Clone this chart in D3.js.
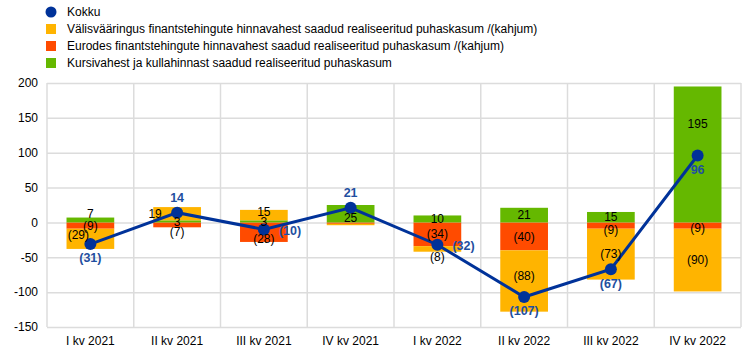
<html>
<head>
<meta charset="UTF-8" />
<script src="https://d3js.org/d3.v7.min.js"></script>
<style>
  body { margin: 0; background: #fff; }
  text { font-family: Arial, "Liberation Sans", sans-serif; }
  .gridlines line { stroke: #dcdcdc; stroke-width: 1.5; }
  .gridlines .domain { stroke: none; }
  .axis .domain, .axis line { stroke: none; }
</style>
</head>
<body>
<svg id="svg1" width="744" height="354"></svg>
<script>
// data
const quarters = ["I kv 2021", "II kv 2021", "III kv 2021", "IV kv 2021", "I kv 2022", "II kv 2022", "III kv 2022", "IV kv 2022"];
const valis = [-29, 19, 15, -2, -8, -88, -73, -90];   // Välisvääringus ...
const eurodes = [-9, -7, -28, -2, -34, -40, -9, -9];  // Eurodes ...
const kursi = [7, 3, 3, 25, 10, 21, 15, 195];         // Kursivahest ...
const kokku = [-31, 14, -10, 21, -32, -107, -67, 96];
const yTicks = [200, 150, 100, 50, 0, -50, -100, -150];

const legendNames = ["Kokku",
  "Välisvääringus finantstehingute hinnavahest saadud realiseeritud puhaskasum /(kahjum)",
  "Eurodes finantstehingute hinnavahest saadud realiseeritud puhaskasum /(kahjum)",
  "Kursivahest ja kullahinnast saadud realiseeritud puhaskasum"];

const colors = { kokku: "#003299", valis: "#FFB400", eurodes: "#FF4B00", kursi: "#65B800" };

// label placement tweaks (styling only)
const totalPos = ["below", "above", "right", "above", "right", "below", "below", "below"];
const nudge = {
  "valis-0": [-12, -4], "kursi-0": [0, -6], "valis-1": [-22, 0], "eurodes-1": [0, 7],
  "eurodes-2": [0, 7], "valis-2": [0, -3], "kursi-3": [0, 4], "valis-4": [0, 8],
  "valis-5": [0, -5], "eurodes-6": [0, 4], "kursi-7": [0, -31], "eurodes-7": [0, 2]
};

const svg = d3.select("#svg1");
const margin = { left: 47, right: 3, top: 83, bottom: 27 };
const plotW = 744 - margin.left - margin.right;
const plotBottom = 327;

const x = d3.scaleBand().domain(quarters).range([margin.left, margin.left + plotW]).paddingInner(0.45).paddingOuter(0.225);
const xGrid = d3.scaleBand().domain(quarters).range([margin.left, margin.left + plotW]);
const y = d3.scaleLinear().domain([-150, 200]).range([plotBottom, margin.top]);

// gridlines
svg.append("g").attr("class", "gridlines")
  .attr("transform", "translate(" + margin.left + ",0)")
  .call(d3.axisLeft(y).tickValues(yTicks).tickSize(-plotW).tickFormat(""));
const vg = svg.append("g").attr("class", "gridlines");
vg.selectAll("line").data(quarters.concat(["end"]))
  .join("line")
  .attr("x1", (d, i) => i < quarters.length ? xGrid(d) : margin.left + plotW)
  .attr("x2", (d, i) => i < quarters.length ? xGrid(d) : margin.left + plotW)
  .attr("y1", y(200)).attr("y2", plotBottom);

// y axis labels
svg.append("g").attr("class", "axis")
  .attr("transform", "translate(" + (margin.left - 2) + ",0)")
  .call(d3.axisLeft(y).tickValues(yTicks).tickSize(0).tickPadding(7).tickFormat(d => String(d)))
  .selectAll("text").style("font-size", "12px").attr("fill", "#000");

// x axis labels
svg.append("g").attr("class", "axis")
  .attr("transform", "translate(0," + plotBottom + ")")
  .call(d3.axisBottom(xGrid).tickSize(0).tickPadding(9))
  .selectAll("text").style("font-size", "12px").attr("fill", "#000");

// stacked bars
const rows = quarters.map((q, i) => ({ q: q, eurodes: eurodes[i], kursi: kursi[i], valis: valis[i] }));
const keys = ["eurodes", "kursi", "valis"];
const stack = d3.stack().keys(keys).offset(d3.stackOffsetDiverging)(rows);

const layers = svg.append("g").selectAll("g.layer").data(stack)
  .join("g").attr("class", "layer").attr("fill", d => colors[d.key]);

layers.selectAll("rect").data(d => d)
  .join("rect")
  .attr("x", d => x(d.data.q))
  .attr("width", x.bandwidth())
  .attr("y", d => y(Math.max(d[0], d[1])))
  .attr("height", d => Math.abs(y(d[0]) - y(d[1])));

// total line
const cx = (d, i) => x(quarters[i]) + x.bandwidth() / 2;
const line = d3.line().x(cx).y(d => y(d));
svg.append("path").attr("d", line(kokku))
  .attr("fill", "none").attr("stroke", colors.kokku).attr("stroke-width", 3);
svg.append("g").selectAll("circle").data(kokku)
  .join("circle")
  .attr("cx", cx).attr("cy", d => y(d)).attr("r", 6)
  .attr("fill", colors.kokku);

// segment labels
const fmt = v => v < 0 ? "(" + Math.abs(v) + ")" : String(v);
const labelLayer = svg.append("g");
stack.forEach(layer => {
  layer.forEach((d, i) => {
    const v = d.data[layer.key];
    if (Math.abs(v) < 3) return;
    const n = nudge[layer.key + "-" + i] || [0, 0];
    labelLayer.append("text")
      .attr("x", x(d.data.q) + x.bandwidth() / 2 + n[0])
      .attr("y", y((d[0] + d[1]) / 2) + n[1])
      .attr("dy", "0.35em")
      .attr("text-anchor", "middle")
      .style("font-size", "12px")
      .attr("fill", "#000")
      .text(fmt(v));
  });
});

svg.append("g").selectAll("text").data(kokku)
  .join("text")
  .attr("x", (d, i) => cx(d, i) + (totalPos[i] === "right" ? 15 : 0))
  .attr("y", (d, i) => y(d) + (totalPos[i] === "below" ? 14 : totalPos[i] === "above" ? -15 : 1))
  .attr("dy", "0.35em")
  .attr("text-anchor", (d, i) => totalPos[i] === "right" ? "start" : "middle")
  .style("font-size", "12.5px").style("font-weight", "bold")
  .attr("fill", "#1f4fa0")
  .text(fmt);

// legend
const legend = svg.append("g");
legendNames.forEach((name, i) => {
  const ly = 12 + i * 17;
  if (i === 0) {
    legend.append("circle").attr("cx", 51).attr("cy", ly).attr("r", 5.5).attr("fill", colors.kokku);
  } else {
    legend.append("rect").attr("x", 46).attr("y", ly - 5).attr("width", 10).attr("height", 10)
      .attr("fill", [colors.valis, colors.eurodes, colors.kursi][i - 1]);
  }
  legend.append("text").attr("x", 67).attr("y", ly).attr("dy", "0.35em")
    .style("font-size", "12px").attr("fill", "#000").text(name);
});
</script>
</body>
</html>
